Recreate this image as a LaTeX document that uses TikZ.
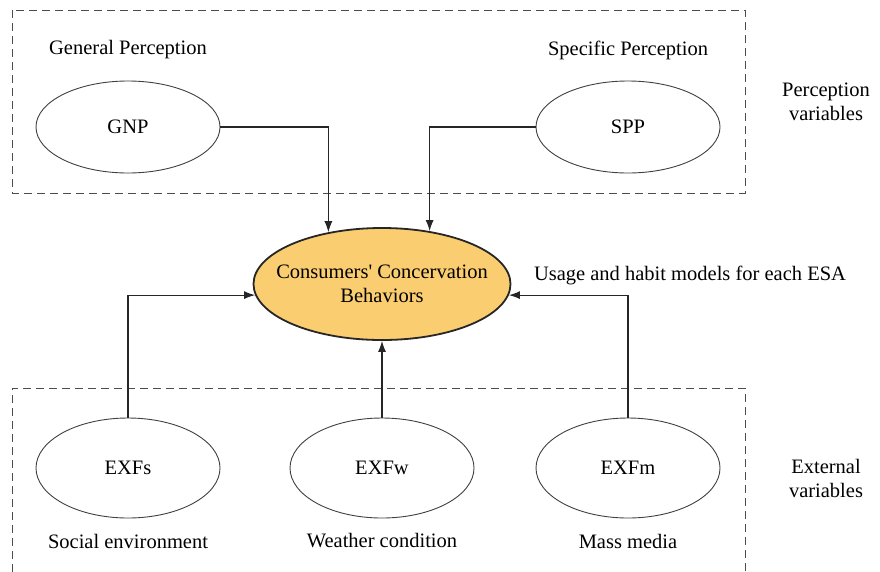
\documentclass[tikz,border=0pt]{standalone}
\usepackage{fontspec}
\setmainfont{Liberation Serif}
\usetikzlibrary{shapes.geometric,arrows.meta}
\definecolor{behavfill}{RGB}{250,206,112}

\begin{document}
\begin{tikzpicture}[x=1pt,y=-1pt,font=\fontsize{20.5}{24}\selectfont,
  varnode/.style={ellipse,draw=black!75,line width=0.9pt,minimum width=184pt,minimum height=92pt,inner sep=0pt},
  extnode/.style={varnode,minimum height=100pt},
  groupbox/.style={draw=black!70,line width=0.9pt,dash pattern=on 8pt off 5pt},
  conn/.style={draw=black!85,line width=1.1pt,-{Latex[length=11pt,width=8pt]}}]
\useasboundingbox (0,0) rectangle (880,571);
\draw[groupbox] (12,10) rectangle (745,193);
\draw[groupbox] (12,585)--(12,388)--(745,388)--(745,585);
\node[varnode] (gnp) at (128,127) {GNP};
\node[varnode] (spp) at (628,127) {SPP};
\node (gnplab) at (128,50) {General Perception};
\node (spplab) at (628,50) {Specific Perception};
\node[align=center] (perclab) at (826,102) {Perception\\variables};
\node[ellipse,draw=black!85,line width=1.8pt,fill=behavfill,minimum width=257pt,minimum height=112pt,inner xsep=-18pt,inner ysep=0pt,align=center] (cb) at (382,284) {Consumers\textquotesingle\ Concervation\\Behaviors};
\node (esalab) at (690,275) {Usage and habit models for each ESA};
\node[extnode] (exfs) at (128,468) {EXFs};
\node[extnode] (exfw) at (382,468) {EXFw};
\node[extnode] (exfm) at (628,468) {EXFm};
\node (exfslab) at (128,541) {Social environment};
\node (exfwlab) at (382,541) {Weather condition};
\node (exfmlab) at (628,541) {Mass media};
\node[align=center] (extlab) at (826,478) {External\\variables};
\draw[conn] (gnp.east) -| (cb.136.75);
\draw[conn] (spp.west) -| (cb.48.67);
\draw[conn] (exfs.north) |- (cb.185);
\draw[conn] (exfw.north) -- (cb.south);
\draw[conn] (exfm.north) |- (cb.355);
\end{tikzpicture}
\end{document}
